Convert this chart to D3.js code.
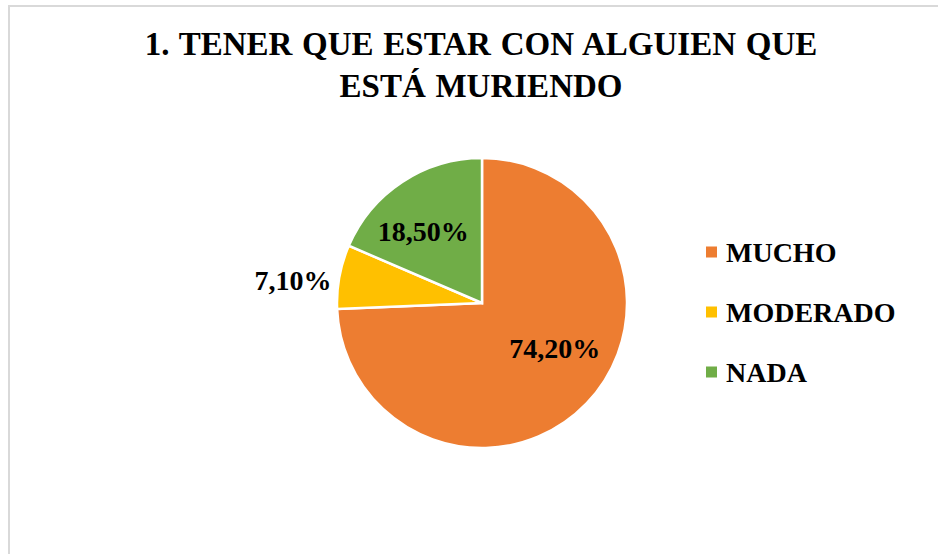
<!DOCTYPE html>
<html>
<head>
<meta charset="utf-8">
<script src="https://cdn.jsdelivr.net/npm/d3@7"></script>
<style>
  html, body { margin: 0; padding: 0; background: #fff; }
  svg { display: block; }
  text { font-family: "Liberation Serif", "Times New Roman", serif; font-weight: bold; fill: #000; }
</style>
</head>
<body>
<svg id="chart" width="938" height="554"></svg>
<script>
const titleLines = ["1. TENER QUE ESTAR CON ALGUIEN QUE", "ESTÁ MURIENDO"];
const categories = ["MUCHO", "MODERADO", "NADA"];
const values = [74.2, 7.1, 18.5];
const labels = ["74,20%", "7,10%", "18,50%"];
const colors = ["#ED7D31", "#FFC000", "#70AD47"];
// label placement style: inside/outside, radius fraction, angular shift (deg)
const labelPlacement = ["inside", "outside", "inside"];
const labelRadiusFrac = [0.59, 1.05, 0.64];
const labelAngleShift = [-12, -2, -6];

const svg = d3.select("#chart");
const W = 938, H = 554;

svg.append("rect").attr("width", W).attr("height", H).attr("fill", "#fff");
svg.append("rect")
  .attr("x", 9).attr("y", 6).attr("width", 1000).attr("height", 1000)
  .attr("fill", "none").attr("stroke", "#d9d9d9").attr("stroke-width", 2);

// Title
const title = svg.append("text")
  .attr("text-anchor", "middle")
  .attr("font-size", 33)
  .attr("word-spacing", 1.5);
titleLines.forEach((t, i) => {
  title.append("tspan").attr("x", 481).attr("y", 55 + i * 42).text(t);
});

// Pie
const cx = 482, cy = 303, R = 145;
const pie = d3.pie().sort(null).value(d => d);
const arcs = pie(values);
const arc = d3.arc().innerRadius(0).outerRadius(R);
const g = svg.append("g").attr("transform", `translate(${cx},${cy})`);

g.selectAll("path.slice")
  .data(arcs)
  .join("path")
  .attr("class", "slice")
  .attr("d", arc)
  .attr("fill", (d, i) => colors[i])
  .attr("stroke", "#fff")
  .attr("stroke-width", 2.5)
  .attr("stroke-linejoin", "miter");

// Data labels
g.selectAll("text.lbl")
  .data(arcs)
  .join("text")
  .attr("class", "lbl")
  .attr("font-size", 28)
  .attr("dominant-baseline", "central")
  .each(function (d, i) {
    const sel = d3.select(this);
    const a = (d.startAngle + d.endAngle) / 2 + labelAngleShift[i] * Math.PI / 180;
    const r = R * labelRadiusFrac[i];
    const x = r * Math.sin(a), y = -r * Math.cos(a);
    if (labelPlacement[i] === "inside") {
      sel.attr("x", x).attr("y", y).attr("text-anchor", "middle");
    } else {
      sel.attr("x", x).attr("y", y)
         .attr("text-anchor", Math.sin(a) < 0 ? "end" : "start");
    }
    sel.text(labels[i]);
  });

// Legend
const legendY = d3.scalePoint().domain(categories).range([252, 372]);
const leg = svg.append("g").selectAll("g")
  .data(categories)
  .join("g")
  .attr("transform", d => `translate(706,${legendY(d)})`);
leg.append("rect")
  .attr("x", 0).attr("y", -5.5).attr("width", 11).attr("height", 11)
  .attr("fill", (d, i) => colors[i]);
leg.append("text")
  .attr("x", 20).attr("y", 0)
  .attr("dominant-baseline", "central")
  .attr("font-size", 28)
  .text(d => d);
</script>
</body>
</html>
